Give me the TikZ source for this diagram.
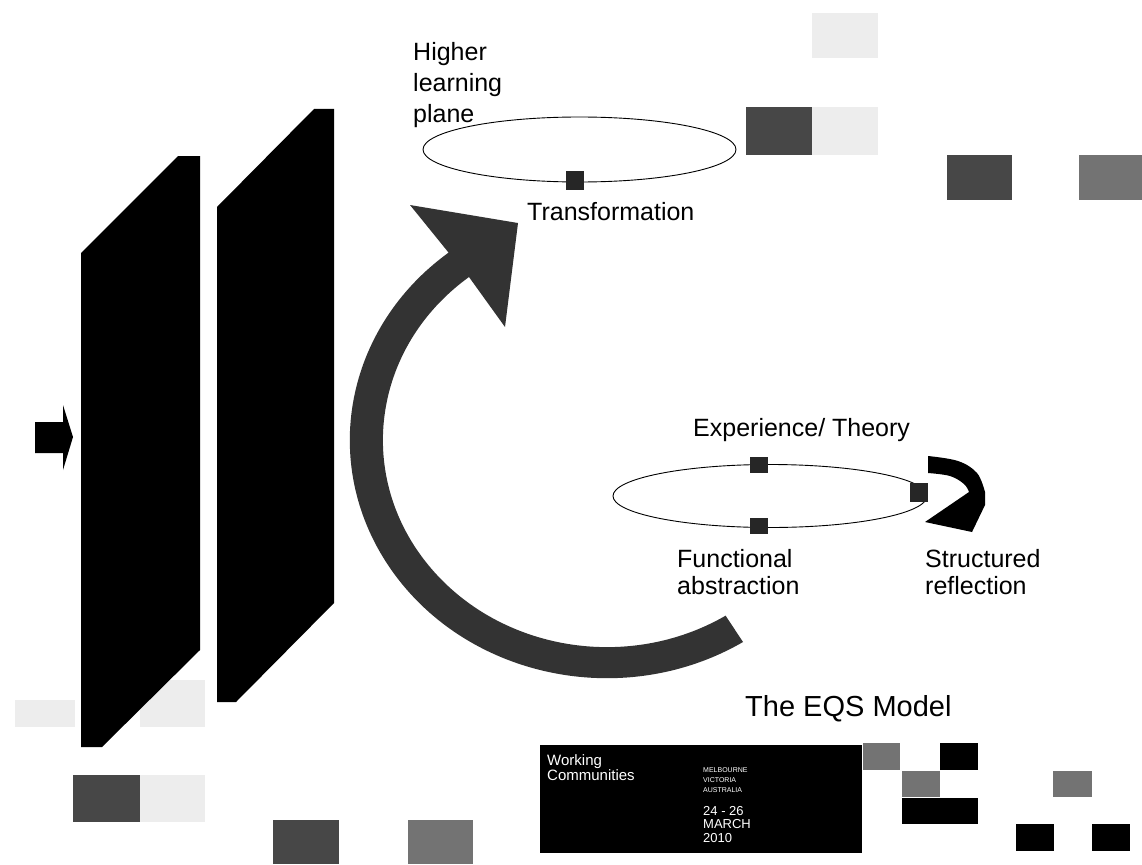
\documentclass[tikz,border=0pt]{standalone}
\usepackage{fontspec}
\setmainfont{Liberation Sans}
\usetikzlibrary{shapes.geometric}

\tikzset{
  lbl/.style={anchor=north west, inner sep=0pt, align=left, font=\fontsize{25}{27}\selectfont},
  plane/.style={draw, ellipse, line width=0.9pt, inner sep=0pt},
  knot/.style={fill=black!85, minimum width=18pt, minimum height=17pt, inner sep=0pt},
  darktile/.style={fill=black!72},
  midtile/.style={fill=black!55},
  faintile/.style={fill=black!7},
  bigarrow/.style={fill=black!80},
  bannertext/.style={anchor=north west, inner sep=0pt, align=left, text=white},
}

\begin{document}
\begin{tikzpicture}[x=1pt, y=-1pt]
  \useasboundingbox (0,0) rectangle (1142,864);

  % Tiles
  \fill[faintile] (812,13) rectangle (878,58);
  \fill[darktile] (746,107) rectangle (812,155);
  \fill[faintile] (812,107) rectangle (878,155);
  \fill[darktile] (947,155) rectangle (1012,200);
  \fill[midtile] (1079,155) rectangle (1142,200);
  \fill[faintile] (140,680) rectangle (205,727);
  \fill[faintile] (15,700) rectangle (75,727);
  \fill[darktile] (73,775) rectangle (140,822);
  \fill[faintile] (140,775) rectangle (205,822);
  \fill[darktile] (273,820) rectangle (339,864);
  \fill[midtile] (408,820) rectangle (473,864);
  \fill[midtile] (863,743) rectangle (900,770);
  \fill[midtile] (902,771) rectangle (940,797);
  \fill (940,743) rectangle (978,770);
  \fill (902,798) rectangle (978,824);
  \fill[midtile] (1053,771) rectangle (1092,797);
  \fill (1016,824) rectangle (1054,851);
  \fill (1092,824) rectangle (1130,851);

  % Panels
  \fill (35,422) -- (63,422) -- (63,405) -- (73,437) -- (63,470) -- (63,453) -- (35,453) -- cycle;
  \fill (81,253) -- (178,156) -- (200,156) -- (200,650) -- (102,747) -- (81,747) -- cycle;
  \fill (217,207) -- (314,109) -- (334,109) -- (334,603) -- (236,702) -- (217,702) -- cycle;

  % Big arrow
  \fill[bigarrow] (743,642) arc[start angle=58, end angle=232, x radius=257, y radius=238]
    -- (410,205) -- (518,223) -- (505,327) -- (469,277)
    arc[start angle=232, end angle=58, x radius=224, y radius=207] -- cycle;

  % Small arrow
  \fill plot[smooth, tension=0.6] coordinates {(928,456) (958,461) (977,473) (985,492)}
    -- (985,505) -- (972,532) -- (925,522) -- (969,492)
    -- plot[smooth, tension=0.6] coordinates {(969,492) (964,484) (950,476) (928,473)}
    -- cycle;

  % Planes
  \node[plane, minimum width=313pt, minimum height=65pt] (upperplane) at (579.5,149.5) {};
  \node[plane, minimum width=314pt, minimum height=63pt] (lowerplane) at (770,496) {};
  \node[knot, minimum height=19pt] (transform) at (575,180) {};
  \node[knot, minimum height=16pt] (experience) at (759,465) {};
  \node[knot, minimum height=16pt] (functional) at (759,526) {};
  \node[knot, minimum height=19pt] (reflection) at (919,492) {};

  % Labels
  \node[lbl, font=\fontsize{25}{31}\selectfont] (higher) at (413,42) {Higher\\learning\\plane};
  \node[lbl] (transformlbl) at (527,202) {Transformation};
  \node[lbl] (experiencelbl) at (693,418) {Experience/ Theory};
  \node[lbl] (functionallbl) at (677,549) {Functional\\abstraction};
  \node[lbl] (reflectionlbl) at (925,549) {Structured\\reflection};
  \node[lbl, font=\fontsize{29}{31}\selectfont] (title) at (745,695) {The EQS Model};

  % Banner
  \fill (540,745) rectangle (862,853);
  \node[bannertext, font=\fontsize{15}{12}\selectfont] (working) at (547,754) {Working\\Communities};
  \node[bannertext, font=\fontsize{7}{10}\selectfont] (place) at (703,767) {MELBOURNE\\VICTORIA\\AUSTRALIA};
  \node[bannertext, font=\fontsize{13}{13.5}\selectfont] (date) at (703,806) {24 - 26\\MARCH\\2010};
\end{tikzpicture}
\end{document}
